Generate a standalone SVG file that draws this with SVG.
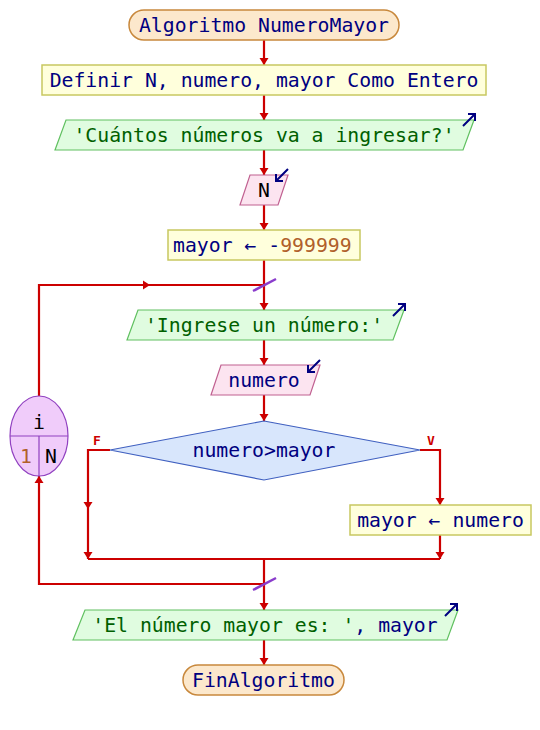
<svg xmlns="http://www.w3.org/2000/svg" width="540" height="730" viewBox="0 0 540 730">
<defs>
<style>
text{font-family:"DejaVu Sans Mono","Liberation Mono",monospace;font-size:19.8px;fill:#000080}
.c{text-anchor:middle}
.str{fill:#006000}
.num{fill:#b0602a}
.blk{fill:#000000}
.term{fill:#fce8cc;stroke:#c8883c;stroke-width:1.5}
.proc{fill:#ffffdc;stroke:#c8c860;stroke-width:1.5}
.out{fill:#e0fce0;stroke:#60c060;stroke-width:1.2}
.inp{fill:#fce4f0;stroke:#c06090;stroke-width:1.2}
.dec{fill:#d8e6fc;stroke:#4060c0;stroke-width:1.2}
.loop{fill:#f0ccfa;stroke:#9040c0;stroke-width:1.2}
.ln{fill:none;stroke:#cc0000;stroke-width:2.2}
.ah{fill:#cc0000}
.sl{stroke:#8a3ccc;stroke-width:2.5}
.ico{fill:none;stroke:#000080;stroke-width:2}
.lbl{font-size:13px;font-weight:bold;fill:#cc0000}
</style>
</defs>

<g id="connectors">
<path class="ln" d="M264 40V65 M264 95V120 M264 150V175 M264 205V230 M264 260V310 M264 340V365 M264 395V421"/>
<path class="ln" d="M39 396V285H264"/>
<path class="ln" d="M110 450H88V559 M420 450H440V505 M440 535V559 M88 559H440"/>
<path class="ln" d="M264 559V610 M264 584H39V476 M264 640V665"/>
<g class="ah">
<polygon points="259.5,58 268.5,58 264,65"/>
<polygon points="259.5,113 268.5,113 264,120"/>
<polygon points="259.5,168 268.5,168 264,175"/>
<polygon points="259.5,223 268.5,223 264,230"/>
<polygon points="259.5,303 268.5,303 264,310"/>
<polygon points="259.5,358 268.5,358 264,365"/>
<polygon points="259.5,414 268.5,414 264,421"/>
<polygon points="143,280.5 143,289.5 150,285"/>
<polygon points="83.5,502 92.5,502 88,509"/>
<polygon points="83.5,552 92.5,552 88,559"/>
<polygon points="435.5,498 444.5,498 440,505"/>
<polygon points="435.5,552 444.5,552 440,559"/>
<polygon points="259.5,603 268.5,603 264,610"/>
<polygon points="34.5,483 43.5,483 39,476"/>
<polygon points="259.5,658 268.5,658 264,665"/>
</g>
<line class="sl" x1="253" y1="291" x2="276" y2="279"/>
<line class="sl" x1="253" y1="590" x2="276" y2="578"/>
<text class="lbl" x="97" y="445" text-anchor="middle">F</text>
<text class="lbl" x="431" y="445" text-anchor="middle">V</text>
</g>

<g id="start">
<rect class="term" x="129" y="10" width="270" height="30" rx="15"/>
<text class="c" x="264" y="32">Algoritmo NumeroMayor</text>
</g>

<g id="definir">
<rect class="proc" x="42" y="65" width="444" height="30"/>
<text class="c" x="264" y="87">Definir N, numero, mayor Como Entero</text>
</g>

<g id="escribir1">
<polygon class="out" points="66,120 474,120 463,150 55,150"/>
<text class="c str" x="264" y="142">'Cuántos números va a ingresar?'</text>
<path class="ico" d="M463 126L475 114M468 114H475V121"/>
</g>

<g id="leer1">
<polygon class="inp" points="250,175 288,175 278,205 240,205"/>
<text class="c blk" x="264" y="197">N</text>
<path class="ico" d="M288 169L276 181M276 174V181H283"/>
</g>

<g id="asignar1">
<rect class="proc" x="168" y="230" width="192" height="30"/>
<text x="173" y="252">mayor ← -<tspan class="num">999999</tspan></text>
</g>

<g id="para">
<ellipse class="loop" cx="39" cy="436" rx="29" ry="40"/>
<path fill="none" stroke="#9040c0" stroke-width="1.2" d="M10 436H68M39 436V476"/>
<text class="c blk" x="39" y="429">i</text>
<text class="c num" x="26" y="463">1</text>
<text class="c blk" x="51" y="463">N</text>
</g>

<g id="escribir2">
<polygon class="out" points="138,310 404,310 393,340 127,340"/>
<text class="c str" x="264" y="332">'Ingrese un número:'</text>
<path class="ico" d="M393 316L405 304M398 304H405V311"/>
</g>

<g id="leer2">
<polygon class="inp" points="221,365 320,365 310,395 211,395"/>
<text class="c" x="264" y="387">numero</text>
<path class="ico" d="M320 360L308 372M308 365V372H315"/>
</g>

<g id="si">
<polygon class="dec" points="264,421 420,450 264,480 110,450"/>
<text class="c" x="264" y="457">numero&gt;mayor</text>
</g>

<g id="asignar2">
<rect class="proc" x="350" y="505" width="181" height="30"/>
<text class="c" x="440.5" y="527">mayor ← numero</text>
</g>

<g id="escribir3">
<polygon class="out" points="85,610 458,610 447,640 73,640"/>
<text class="c" x="265" y="632"><tspan class="str">'El número mayor es: '</tspan>, mayor</text>
<path class="ico" d="M445 616L457 604M450 604H457V611"/>
</g>

<g id="fin">
<rect class="term" x="183" y="665" width="161" height="30" rx="15"/>
<text class="c" x="263.5" y="687">FinAlgoritmo</text>
</g>
</svg>
